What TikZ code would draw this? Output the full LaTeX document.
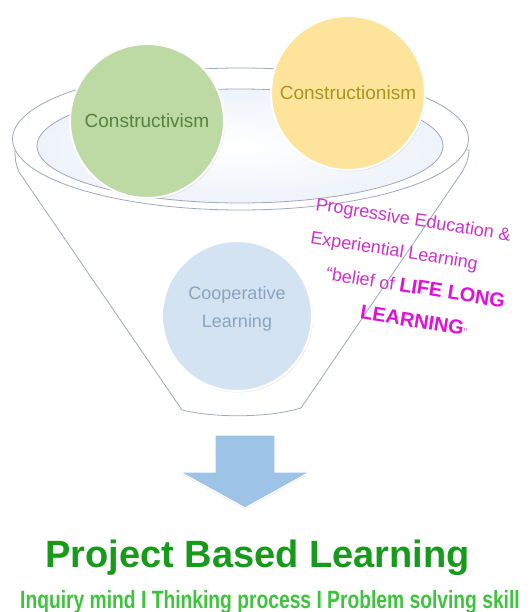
\documentclass[tikz,border=0pt]{standalone}
\usepackage{fontspec}
\setmainfont{Liberation Sans}
\usetikzlibrary{shadows}
\definecolor{funnelline}{HTML}{9FA8BB}
\definecolor{innerblue}{HTML}{EEF3FA}
\definecolor{greenfill}{HTML}{BDDAA5}
\definecolor{greentext}{HTML}{55833A}
\definecolor{yellowfill}{HTML}{FDE49A}
\definecolor{yellowtext}{HTML}{A89420}
\definecolor{bluefill}{HTML}{D3E3F2}
\definecolor{bluetext}{HTML}{8AA4BF}
\definecolor{arrowblue}{HTML}{9DC3E6}
\definecolor{titlegreen}{HTML}{169A1A}
\definecolor{subgreen}{HTML}{3CC43C}
\definecolor{magsoft}{HTML}{CC33CC}
\definecolor{magbold}{HTML}{E010D8}
\tikzset{
  funnel/.style={draw=funnelline, line width=0.8pt},
  bubble/.style={circle, minimum size=154pt, inner sep=0pt, draw=white, line width=2pt,
    drop shadow={opacity=0.18, shadow xshift=1pt, shadow yshift=-1.5pt},
    font=\fontsize{19}{22}\selectfont},
  magtext/.style={anchor=north west, text=magsoft, align=left,
    font=\fontsize{18}{33.5}\selectfont, inner sep=0pt},
}
\newcommand{\magB}[1]{\textcolor{magbold}{\fontsize{20}{22}\selectfont\bfseries #1}}
\begin{document}
\begin{tikzpicture}[x=1pt,y=-1pt]
\useasboundingbox (0,0) rectangle (531,612);
% funnel body
\draw[funnel, fill=white] (15,150) .. controls (15,160) and (16,165) .. (19,172)
  -- (182,410) .. controls (215,418) and (268,418) .. (301,408)
  -- (462,172) .. controls (466,165) and (469,158) .. (469,150) -- cycle;
\draw[funnel, fill=white] (240.5,139) ellipse [x radius=228pt, y radius=71pt];
\draw[funnel, inner color=white, outer color=innerblue] (240,146) ellipse [x radius=203pt, y radius=57pt];
% circles
\node[bubble, fill=greenfill, text=greentext] (cv) at (147,121) {Constructivism};
\node[bubble, fill=yellowfill, text=yellowtext] (cn) at (348,93) {Constructionism};
\node[bubble, fill=bluefill, minimum size=150pt] (cl) at (237,316) {};
\node[text=bluetext, align=center, font=\fontsize{18}{28}\selectfont] (clt) at (237,309) {Cooperative\\Learning};
% magenta text
\node[magtext, rotate=-9] (mag) at (317,197)
  {Progressive Education \&\\
   Experiential Learning\\
   \hspace*{21pt}“belief of \magB{LIFE LONG}\\
   \hspace*{61pt}\magB{LEARNING}{\fontsize{10}{12}\selectfont”}};
% arrow
\fill[arrowblue, draw=white, line width=1.2pt, drop shadow={opacity=0.15, shadow xshift=0pt, shadow yshift=-1.5pt}]
  (215,435) -- (275,435) -- (275,472) -- (310,472) -- (245,508) -- (180,472) -- (215,472) -- cycle;
% titles
\node[anchor=base, text=titlegreen, font=\fontsize{38}{40}\selectfont\bfseries, inner sep=0pt] (pbl) at (257.5,567) {Project Based Learning};
\node[anchor=base, text=subgreen, font=\fontsize{25}{27}\selectfont\bfseries, inner sep=0pt] (sub) at (270,608)
  {\scalebox{0.77}[1]{Inquiry mind I Thinking process I Problem solving skill}};
\end{tikzpicture}
\end{document}
